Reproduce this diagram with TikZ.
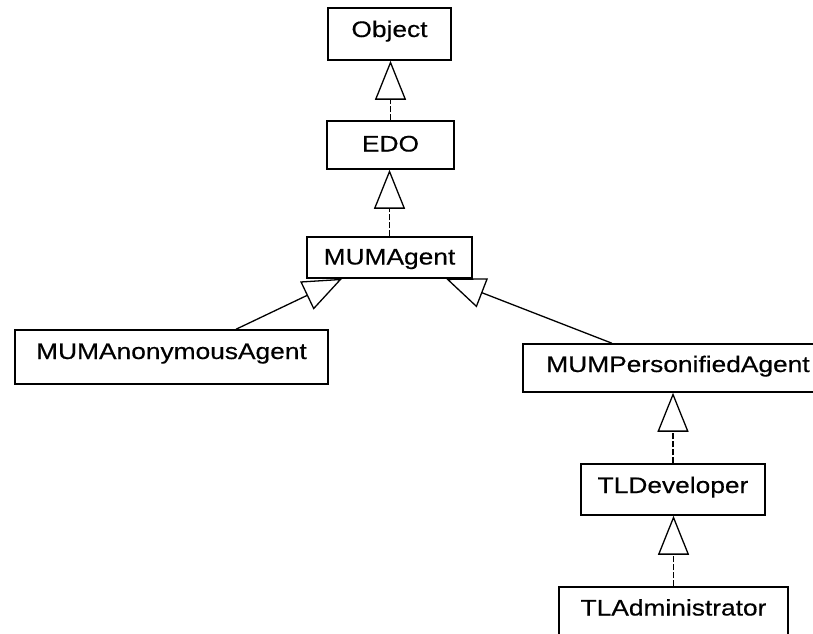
\documentclass[tikz,border=0pt]{standalone}
\usepackage{fontspec}
\setmainfont{Liberation Sans}[FakeStretch=1.17, FakeBold=0.4]
\usetikzlibrary{arrows.meta}
\tikzset{
  cls/.style={draw=black, line width=1.5pt, rectangle, inner sep=0pt,
    font=\fontsize{22.5}{26}\selectfont, text height=16pt, fill=white},
  gen/.style={line width=1.3pt, -{Triangle[open, length=39pt, width=31pt]}},
  genv/.style={gen, dash pattern=on 6pt off 2pt},
}
\begin{document}
\begin{tikzpicture}[x=1pt,y=-1pt]
\useasboundingbox (0,0) rectangle (813,633);
\clip (0,0) rectangle (813,633);
\fill[white] (0,0) rectangle (813,633);

% class boxes
\node[cls, minimum width=123pt, minimum height=52pt, text depth=10pt] (obj)   at (389.5,34)  {Object};
\node[cls, minimum width=127pt, minimum height=48pt, text depth=3pt]  (edo)   at (390.5,145) {EDO};
\node[cls, minimum width=165pt, minimum height=41pt, text depth=2pt]  (agent) at (389.5,257.5) {MUMAgent};
\node[cls, minimum width=313pt, minimum height=54pt, text depth=12pt] (anon)  at (171.5,357) {MUMAnonymousAgent};
\node[cls, minimum width=310pt, minimum height=48pt, text depth=8pt]  (pers)  at (678,368)   {MUMPersonifiedAgent};
\node[cls, minimum width=184pt, minimum height=51pt, text depth=9pt]  (tldev) at (673,489.5) {TLDeveloper};
\node[cls, minimum width=229pt, minimum height=60pt, text depth=19pt] (tladm) at (673.5,617) {TLAdministrator};

% generalisations
\draw[genv] (edo.north) -- (edo.north |- obj.south);
\draw[genv] (agent.north) -- (agent.north |- edo.south);
\draw[gen]  ([xshift=64.5pt]anon.north) -- ([xshift=-47.5pt]agent.south);
\draw[gen]  ([xshift=-66pt]pers.north) -- ([xshift=56.5pt]agent.south);
\draw[genv] (tldev.north) -- (tldev.north |- pers.south);
\draw[genv] (tladm.north) -- (tladm.north |- tldev.south);
\end{tikzpicture}
\end{document}
